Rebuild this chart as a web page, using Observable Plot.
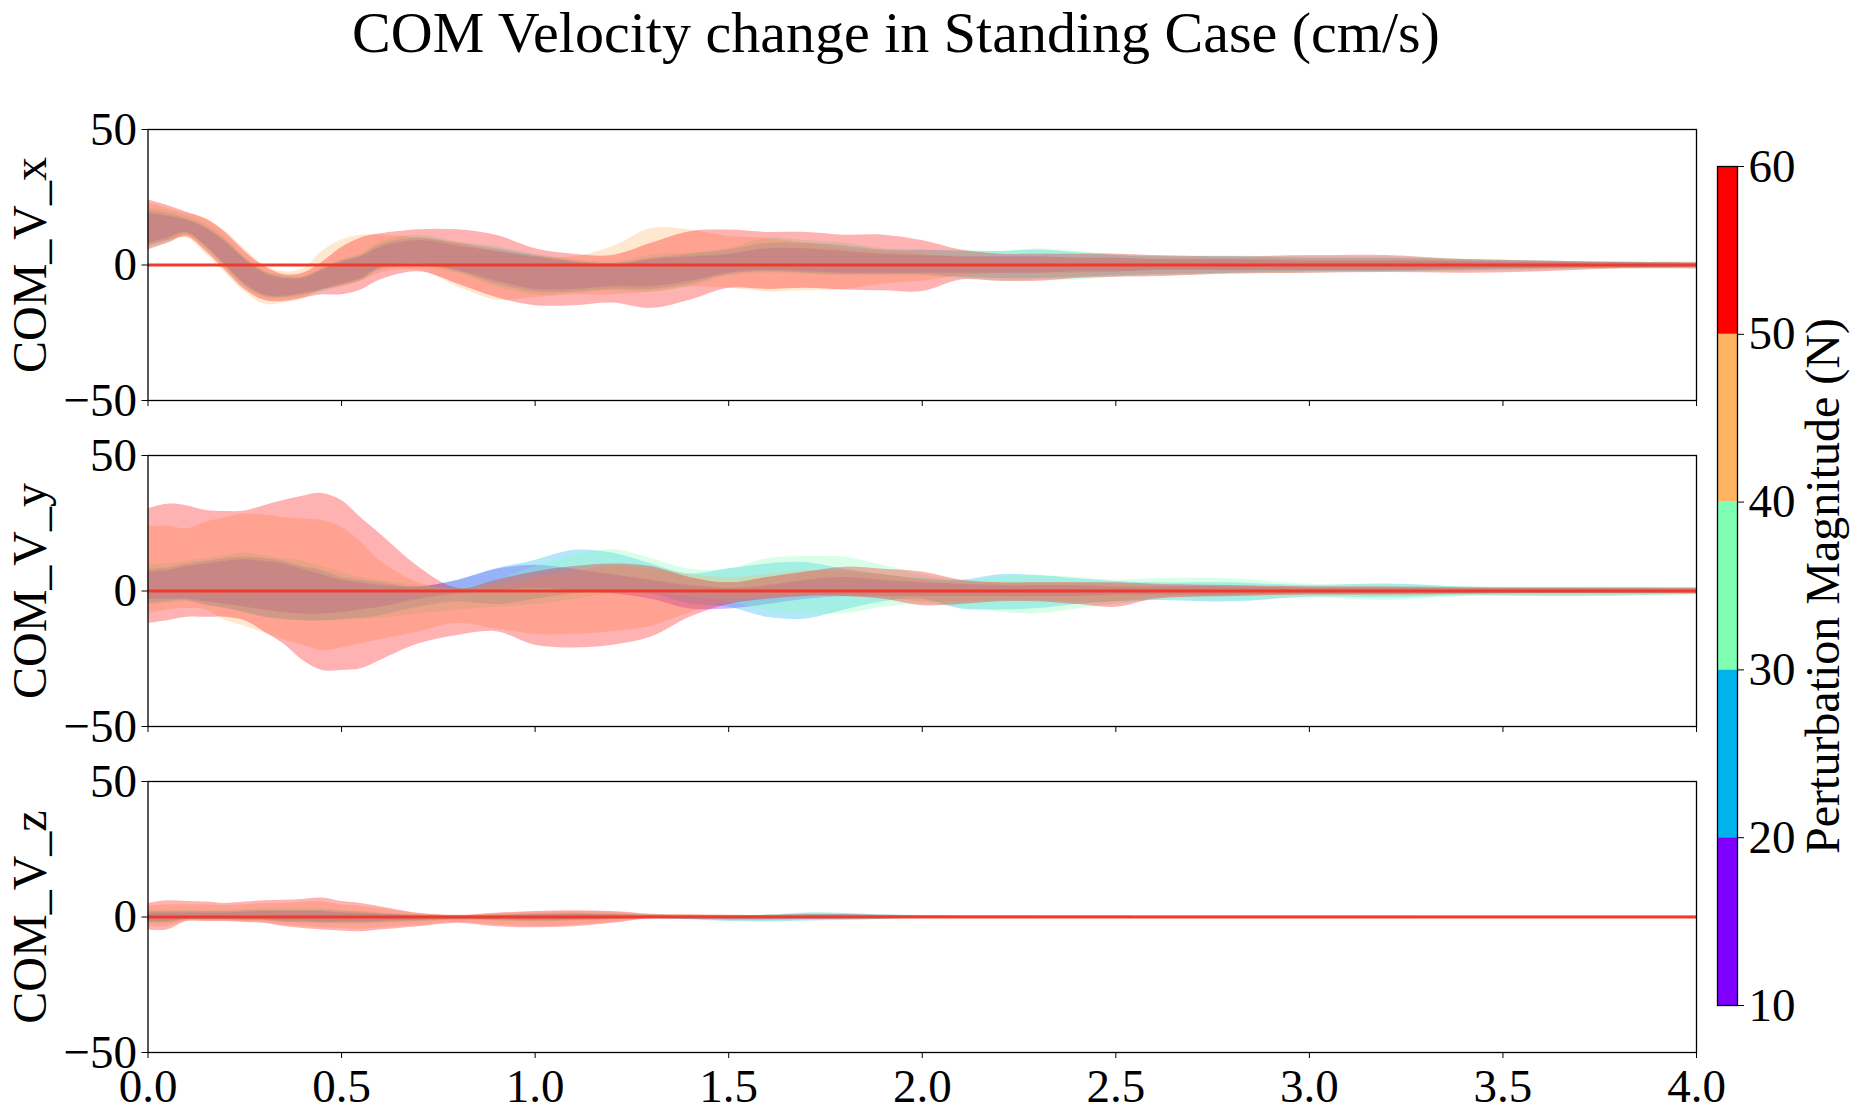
<!DOCTYPE html>
<html><head><meta charset="utf-8">
<script src="https://cdn.jsdelivr.net/npm/d3@7"></script>
<script src="https://cdn.jsdelivr.net/npm/@observablehq/plot@0.6"></script>
<style>
html,body{margin:0;padding:0;background:#fff;overflow:hidden;}
#root{position:relative;width:1857px;height:1119px;font-family:"Liberation Serif","Times New Roman",serif;}
.abs{position:absolute;}
svg{max-width:none !important;}
#title{position:absolute;left:0;width:1792px;top:4px;text-align:center;font-size:58px;line-height:58px;color:#000;}
</style>
</head><body><div id="root"><div id="title">COM Velocity change in Standing Case (cm/s)</div></div>
<script>
// ---------- data ----------
const TITLE = "COM Velocity change in Standing Case (cm/s)";
const MAGS = ["10-20 N", "20-30 N", "30-40 N", "40-50 N", "50-60 N"];
const COLORS = ["#8000ff", "#00b4eb", "#80ffb4", "#ffb462", "#ff0000"];
const BOUNDS = [10, 20, 30, 40, 50, 60];
const CB_LABEL = "Perturbation Magnitude (N)";
const PANEL_LABELS = ["COM_V_x", "COM_V_y", "COM_V_z"];
const Y_TICKS = [-50, 0, 50];
const X_TICKS = [0, 0.5, 1, 1.5, 2, 2.5, 3, 3.5, 4];

const T = [0,0.05,0.1,0.15,0.2,0.25,0.3,0.35,0.4,0.45, 0.5,0.55,0.6,0.7,0.8,0.9,1.0,1.1,1.2,1.3, 1.4,1.5,1.6,1.7,1.8,1.9,2.0,2.1,2.2,2.3, 2.4,2.5,2.6,2.8,3.0,3.2,3.4,3.6,3.8,4.0];

// COM_V_x
const xRedHi = [24,22,19.5,17,12,5,-0.5,-3.5,-3,1, 6.5,10,11.5,13,13,11,6,4,3.5,8, 12.3,12.9,12,12,11,11,9,5.5,4,4, 4,4,3.5,3,3.5,3.5,2,1.5,1,1];
const xRedLo = [5.5,8,10.4,5,-2,-9,-13,-13.5,-12.3,-11, -11,-9.2,-5.5,-2.5,-7,-12,-15,-15,-14,-16, -13,-8.6,-9,-8.6,-9.2,-9.5,-9.8,-5.5,-6,-6, -5,-4.5,-4.3,-3.3,-3,-2.8,-3,-2.5,-1.5,-1.5];
const xOrHi = [23,21,19,17,12.5,6,0,-2.5,-1.5,5, 9.2,11,11,10,8,5,3,3,6.7,13.5, 12.9,10.5,9.8,8,6,5,4,3,2.5,2.5, 2.5,2.5,2,2,2,2,1.5,1,0.8,0.5];
const xOrLo = [7,9,10,4,-3,-10,-14.5,-14,-12.5,-9, -8,-6,-3,-1.8,-8,-12.9,-12,-11,-11,-10, -8,-8.6,-9.8,-9.5,-9,-7,-6,-4,-3,-3, -3,-2.5,-2,-2,-2,-2,-1.5,-1,-0.8,-0.5];
const xGrHi = [21,20,18,15,10,3,-2,-4,-4.3,-1.2, 2,4,8.6,11,8.6,6.7,4,2,1,3.7, 4.3,6,9.8,9,8,6,5,5.5,5,6, 5,4,3.5,3.3,3,3,2,1.5,1,0.8];
const xGrLo = [6,8,11,6,-1,-8,-12,-12.5,-11.5,-10, -8,-6,-2,-0.6,-3,-8,-11,-10.4,-9.5,-10, -8,-4,-3,-3.5,-4,-4,-4,-5,-6,-5.5, -5.5,-4.5,-4,-3.3,-3,-2.5,-2.5,-2,-1.5,-1.5];
const xBlHi = [20,19,17,14,9,2.5,-2.5,-4.5,-4.5,-1.5, 1.5,3.5,7.5,10,8,6,3.5,1.5,0.5,2.5, 4,5.5,8,8,7,5.5,5.5,5,5,5.5, 4.5,3.5,3,3,2.5,2.5,2,1.5,1,0.6];
const xBlLo = [7,9,11.5,6.5,-0.5,-7.5,-11.5,-12,-11,-9.5, -7.5,-5.5,-1.5,0,-2.5,-7,-10,-10,-9,-9, -7,-3.5,-2.5,-3,-3.5,-3.5,-3.5,-4.5,-5,-5, -4.5,-4,-3.5,-3,-2.5,-2.5,-2,-1.5,-1.2,-1];
const xPuHi = [19,18,16.5,13.5,8.5,2,-3,-5,-5,-2, 1,3,6.5,9,7,5,3,1,0,2, 3,4,6,6,5,4,3.5,3,3,3, 2.5,2.5,2,2,1.5,1.5,1.2,1,0.8,0.5];
const xPuLo = [8,10,12,7,0,-7,-11,-11.5,-10.5,-9, -7,-5,-1,0.5,-2,-6,-9,-9,-8,-8, -6,-3,-2,-2.5,-3,-3,-3,-3,-3,-3, -2.5,-2.5,-2,-2,-2,-2,-1.5,-1.2,-1,-0.8];

// COM_V_y
const yRedHi = [30.3,32,31.5,29.7,29.3,29.5,31.5,33.4,35,36, 33.4,27,21,8.8,1,4,7,9,10,9, 5,3,5,7,8.8,8,7,4,3,3, 3,3,2.5,2,1.5,1.5,1.2,1,1,1];
const yRedLo = [-12,-11,-9.7,-9.7,-9.7,-11,-15,-19.5,-25.6,-29.3, -29.3,-28.7,-25.6,-19.5,-16.4,-15,-20,-21,-20,-17, -9.7,-5,-3,-2,-2,-3,-5.4,-5,-4,-4, -5,-6,-3,-2,-1.5,-1.5,-1.2,-1,-1,-1];
const yOrHi = [23.8,24,23,25.4,27,28.5,28,27,26.6,26, 23.5,18,11,3,0,2,5,7,9,8, 6,5,6,7.5,7,6,4,3,3,3, 3,2.5,2,2,1.5,1.5,1,1,1,1];
const yOrLo = [-8.4,-7,-6.5,-7,-10.9,-13,-15.5,-18,-20,-22, -21,-19.5,-18,-15,-12,-14,-16,-16,-15,-13, -8,-4,-2.5,-2,-2,-2.5,-4,-4,-3.5,-3.5, -4,-4,-2.5,-2,-1.5,-1.5,-1.2,-1,-1,-1];
const yGrHi = [10,10,11,12,13,14,13,12,11,9, 7,5,4,2,1,4,9,13,15.2,12, 8,8,11.9,12.7,12.5,9.4,6,4,5,5.5, 5,4,4.5,4.5,2.5,2.5,1.5,1.5,1.5,1.2];
const yGrLo = [-5,-4.5,-4,-5,-6,-7.5,-9,-10,-11,-11, -11,-10.5,-10,-8.5,-7,-6,-5,-3,-1,-1, -2,-4,-7,-8,-8.4,-6,-5,-6,-7.8,-8.4, -6.6,-5,-3.5,-3.5,-2.5,-3.5,-2,-2,-2,-1.5];
const yBlHi = [8,8.5,10,11,12,12.5,12,11,9,7.6, 5,4,3,1.5,4,8.2,11.3,15,14,10, 6.3,8.2,10,10.5,8,6,4.5,3.9,6,5.7, 4.5,3.5,3,3,2,2.6,1.5,1.3,1.3,1.2];
const yBlLo = [-4.7,-4,-3.5,-5.3,-6.5,-8,-9.7,-10.5,-11,-11, -10.5,-10,-9,-6,-4,-5,-3,-1,0,-1, -4.7,-6,-9.7,-10.3,-7,-4,-3,-6.6,-7,-6.5, -5,-4,-3.5,-4,-2.3,-2.5,-1.8,-2,-1.8,-1.3];
const yPuHi = [7,7.5,9,10,11,11.5,11,10,8,6, 4,3,2,1.5,3.9,8,9.5,8,6,4, 2,1,2,4,5,4,3,2.5,2,2, 2,1.5,1.5,1.5,1,1,0.8,0.8,0.7,0.6];
const yPuLo = [-3,-3,-3,-4,-5,-6,-7,-8,-8.5,-8.5, -8,-7,-6,-3,-1,0,1,0,-1,-3, -6.6,-6.6,-5,-3,-2,-2,-2,-2,-2,-2, -2,-1.5,-1.5,-1.5,-1,-1,-0.8,-0.8,-0.7,-0.6];

// COM_V_z
const zRedHi = [5,6,5.7,5.5,5,5.5,6,6.2,6.5,7, 5.7,5,3.8,1.4,0.6,1.4,2,2.3,2,1, 0.8,0.6,0.6,0.8,0.8,0.6,0.5,0.5,0.4,0.4, 0.4,0.4,0.3,0.3,0.3,0.3,0.3,0.3,0.3,0.3];
const zRedLo = [-4.8,-4.8,-1.7,-1.7,-1.7,-2,-2.3,-3.5,-4.2,-4.8, -5.2,-5.4,-4.8,-3.6,-2.3,-3.6,-4,-3.6,-2.3,-0.6, -0.5,-0.6,-0.6,-0.5,-0.5,-0.5,-0.5,-0.5,-0.4,-0.4, -0.4,-0.4,-0.3,-0.3,-0.3,-0.3,-0.3,-0.3,-0.3,-0.3];
const zOrHi = [4,4.5,4.5,4.5,4.2,4.5,5,5,5.5,5.5, 4.5,4,3,1.2,0.5,1.2,1.8,2,1.8,0.8, 0.6,0.5,0.5,0.6,0.6,0.5,0.4,0.4,0.3,0.3, 0.3,0.3,0.3,0.3,0.3,0.3,0.3,0.3,0.3,0.3];
const zOrLo = [-3.5,-3.5,-1.5,-1.5,-1.5,-1.8,-2,-3,-3.5,-4, -4.2,-4.5,-4,-3,-2,-3,-3.5,-3,-2,-0.5, -0.4,-0.5,-0.5,-0.4,-0.4,-0.4,-0.4,-0.4,-0.3,-0.3, -0.3,-0.3,-0.3,-0.3,-0.3,-0.3,-0.3,-0.3,-0.3,-0.3];
const zGrHi = [2.5,2.5,2.5,2.5,2.5,2.8,3,3,3,3, 2.5,2,1.5,0.8,0.5,0.8,1.2,1.5,1.3,0.8, 0.6,0.6,0.8,1.6,1.4,0.8,0.6,0.5,0.4,0.4, 0.4,0.4,0.3,0.3,0.3,0.3,0.3,0.3,0.3,0.3];
const zGrLo = [-2.5,-2.5,-1.2,-1.2,-1.2,-1.4,-1.5,-2,-2.2,-2.5, -2.5,-2.5,-2.2,-1.8,-1.2,-1.5,-1.8,-1.5,-1,-0.5, -0.8,-1.5,-1.6,-1.4,-1.2,-0.8,-0.5,-0.5,-0.4,-0.4, -0.4,-0.4,-0.3,-0.3,-0.3,-0.3,-0.3,-0.3,-0.3,-0.3];
const zBlHi = [2,2,2,2,2,2.2,2.5,2.5,2.5,2.5, 2,1.8,1.2,0.6,0.4,0.6,1,1.2,1,0.6, 0.5,0.5,0.6,1.4,1.3,0.7,0.5,0.4,0.4,0.3, 0.3,0.3,0.3,0.3,0.3,0.3,0.2,0.2,0.2,0.2];
const zBlLo = [-2,-2,-1,-1,-1,-1.2,-1.3,-1.8,-2,-2.2, -2.2,-2.2,-2,-1.5,-1,-1.3,-1.5,-1.3,-0.8,-0.6, -1,-1.7,-1.8,-1.5,-1.3,-0.8,-0.5,-0.4,-0.4,-0.3, -0.3,-0.3,-0.3,-0.3,-0.3,-0.3,-0.2,-0.2,-0.2,-0.2];
const zPuHi = [1.5,1.5,1.5,1.5,1.5,1.8,2,2,2,2, 1.5,1.3,1,0.5,0.3,0.5,0.8,1,0.8,0.5, 0.4,0.4,0.5,0.8,0.8,0.5,0.4,0.3,0.3,0.3, 0.3,0.3,0.2,0.2,0.2,0.2,0.2,0.2,0.2,0.2];
const zPuLo = [-1.5,-1.5,-0.8,-0.8,-0.8,-1,-1,-1.5,-1.5,-1.8, -1.8,-1.8,-1.5,-1.2,-0.8,-1,-1.2,-1,-0.7,-0.5, -0.8,-1.2,-1.2,-1,-0.8,-0.6,-0.4,-0.3,-0.3,-0.3, -0.3,-0.3,-0.2,-0.2,-0.2,-0.2,-0.2,-0.2,-0.2,-0.2];

// ---------- drawing ----------
const FONT = '"Liberation Serif", "Times New Roman", serif';
const root = document.getElementById("root");

function panel(label, bands, showX, frameTop) {
  const rows = [];
  bands.forEach(([mag, lo, hi]) => T.forEach((t, i) => rows.push({t, lo: lo[i], hi: hi[i], mag})));
  const mt = 30, mb = showX ? 80 : 30, h = 271;
  const svg = Plot.plot({
    width: 1857, height: h + mt + mb,
    marginLeft: 147.5, marginRight: 161, marginTop: mt, marginBottom: mb,
    style: {fontFamily: FONT, fontSize: "47px", overflow: "visible", background: "transparent"},
    x: {domain: [0, 4], ticks: X_TICKS, tickSize: 6, tickPadding: 10, label: null,
        tickFormat: showX ? (d => d3.format(".1f")(d)) : (() => "")},
    y: {domain: [-50, 50], ticks: Y_TICKS, tickSize: 6, tickPadding: 5, label: null,
        tickFormat: d => d < 0 ? "\u2212" + Math.abs(d) : String(d)},
    color: {domain: MAGS, range: COLORS},
    marks: [
      Plot.areaY(rows, {x: "t", y1: "lo", y2: "hi", z: "mag", fill: "mag", fillOpacity: 0.3, curve: "catmull-rom"}),
      Plot.ruleY([0], {stroke: "#ee3b2b", strokeWidth: 3}),
      Plot.frame({stroke: "black", strokeWidth: 1.3}),
      Plot.text([label], {frameAnchor: "left", dx: -117, rotate: -90, textAnchor: "middle", lineAnchor: "middle", fontSize: 48, fill: "black"})
    ]
  });
  svg.classList.add("abs");
  svg.style.left = "0px";
  svg.style.top = (frameTop - mt) + "px";
  root.appendChild(svg);
}

panel(PANEL_LABELS[0], [[MAGS[0], xPuLo, xPuHi], [MAGS[1], xBlLo, xBlHi], [MAGS[2], xGrLo, xGrHi], [MAGS[3], xOrLo, xOrHi], [MAGS[4], xRedLo, xRedHi]], false, 129);
panel(PANEL_LABELS[1], [[MAGS[0], yPuLo, yPuHi], [MAGS[1], yBlLo, yBlHi], [MAGS[2], yGrLo, yGrHi], [MAGS[3], yOrLo, yOrHi], [MAGS[4], yRedLo, yRedHi]], false, 455);
panel(PANEL_LABELS[2], [[MAGS[0], zPuLo, zPuHi], [MAGS[1], zBlLo, zBlHi], [MAGS[2], zGrLo, zGrHi], [MAGS[3], zOrLo, zOrHi], [MAGS[4], zRedLo, zRedHi]], true, 781);

// colorbar
const cbData = BOUNDS.slice(0, -1).map((b, i) => ({lo: b, hi: BOUNDS[i + 1], c: COLORS[i]}));
const cbTop = 166, cbH = 839, cbMt = 30;
const cb = Plot.plot({
  width: 160, height: cbH + 60, marginLeft: 0, marginRight: 140, marginTop: cbMt, marginBottom: 30,
  style: {fontFamily: FONT, fontSize: "47px", overflow: "visible", background: "transparent"},
  x: {domain: [0, 1], axis: null},
  y: {domain: [10, 60], ticks: BOUNDS, axis: "right", tickSize: 6, tickPadding: 5, label: null},
  marks: [
    Plot.rect(cbData, {x1: 0, x2: 1, y1: "lo", y2: "hi", fill: "c"}),
    Plot.frame({stroke: "black", strokeWidth: 1.3}),
    Plot.text([CB_LABEL], {frameAnchor: "right", dx: 86, rotate: -90, textAnchor: "middle", lineAnchor: "middle", fontSize: 48, fill: "black"})
  ]
});
cb.classList.add("abs");
cb.style.left = "1717px";
cb.style.top = (cbTop - cbMt) + "px";
root.appendChild(cb);

root.querySelectorAll("svg text").forEach(t => { t.style.fontFamily = FONT; });
</script></body></html>
